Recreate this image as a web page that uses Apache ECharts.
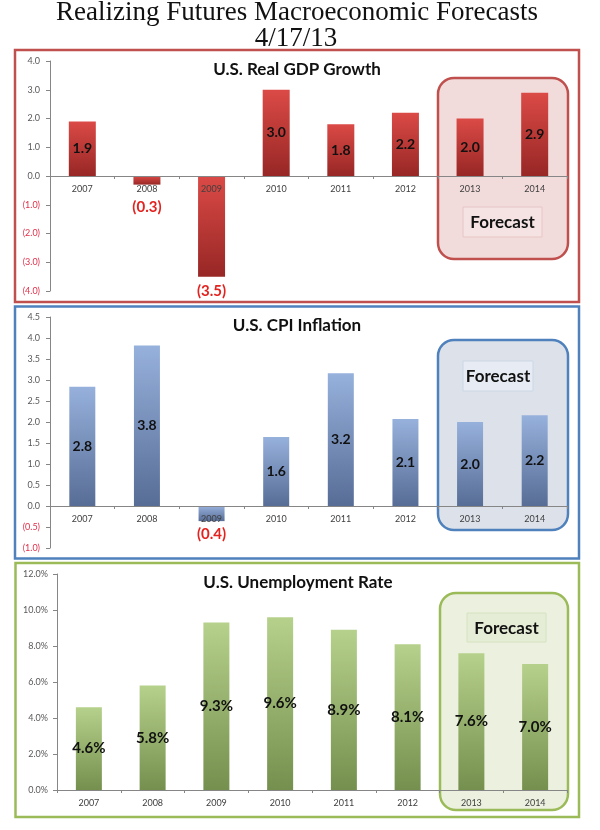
<!DOCTYPE html>
<html><head><meta charset="utf-8">
<script src="https://cdn.jsdelivr.net/npm/echarts@6/dist/echarts.min.js"></script>
<style>html,body{margin:0;padding:0;background:#fff}#c{width:600px;height:830px}</style>
</head><body><div id="c"></div>
<script>
// ---- data ----
const years = ['2007', '2008', '2009', '2010', '2011', '2012', '2013', '2014'];
const gdpValues = [1.9, -0.3, -3.5, 3.0, 1.8, 2.2, 2.0, 2.9];
const cpiValues = [2.84, 3.82, -0.36, 1.64, 3.16, 2.07, 2.0, 2.16];
const unempValues = [4.6, 5.8, 9.3, 9.6, 8.9, 8.1, 7.6, 7.0];
const chartTitles = ['U.S. Real GDP Growth', 'U.S. CPI Inflation', 'U.S. Unemployment Rate'];
const mainTitle = 'Realizing Futures Macroeconomic Forecasts';
const dateLine = '4/17/13';
const forecastText = 'Forecast';

// ---- styles ----
const FONT = 'Lato, "Open Sans", sans-serif';
const NEG_RED = '#e3231f';
const grad = (a, b) => new echarts.graphic.LinearGradient(0, 0, 0, 1, [{offset: 0, color: a}, {offset: 1, color: b}]);

function fmtNum(v) { return v < 0 ? '(' + Math.abs(v).toFixed(1) + ')' : v.toFixed(1); }

const grids = [
  {left: 50, top: 61, width: 517, height: 230, min: -4, max: 4, interval: 1, pct: false},
  {left: 50, top: 317, width: 517, height: 231, min: -1, max: 4.5, interval: 0.5, pct: false},
  {left: 57, top: 574, width: 510, height: 216, min: 0, max: 12, interval: 2, pct: true}
];

function yAxis(idx) {
  const g = grids[idx];
  return {
    type: 'value', gridIndex: idx, min: g.min, max: g.max, interval: g.interval,
    splitLine: {show: false},
    axisLine: {show: true, lineStyle: {color: '#868686', width: 1}},
    axisTick: {show: true, length: 4, lineStyle: {color: '#868686'}},
    axisLabel: {
      fontFamily: FONT, fontSize: 9, color: '#595959', margin: g.pct ? 9 : 10,
      formatter: v => g.pct ? v.toFixed(1) + '%' : (v < 0 ? '{n|' + fmtNum(v) + '}' : v.toFixed(1)),
      rich: {n: {color: '#e0304a', fontSize: 9, fontFamily: FONT}}
    }
  };
}
function xAxis(idx) {
  const g = grids[idx];
  // place the category axis on the zero line of the value axis
  const zeroOffset = -g.height * (0 - g.min) / (g.max - g.min);
  return {
    type: 'category', gridIndex: idx, data: years, position: 'bottom', offset: zeroOffset, z: 3,
    axisLine: {onZero: false, lineStyle: {color: '#868686', width: 1}},
    axisTick: {show: true, length: 3, lineStyle: {color: '#868686'}},
    axisLabel: {fontFamily: FONT, fontSize: 9, color: '#404040', margin: 9}
  };
}
function barSeries(idx, values, top, bottom, width, negDist) {
  const pct = grids[idx].pct;
  return {
    type: 'bar', xAxisIndex: idx, yAxisIndex: idx, barWidth: width,
    itemStyle: {color: grad(top, bottom)},
    label: {
      show: true, position: 'inside', fontFamily: FONT, fontWeight: 'bold',
      fontSize: pct ? 15 : 14, color: '#111',
      formatter: p => fmtNum(p.value) + (pct ? '%' : '')
    },
    data: values.map(v => v < 0 ? {
      value: v,
      label: {position: 'bottom', color: NEG_RED, fontSize: 15, distance: negDist(v)}
    } : v)
  };
}

const chart = echarts.init(document.getElementById('c'), null, {renderer: 'canvas'});

function panel(x1, y1, x2, y2, color) {
  return {type: 'rect', z: -2, shape: {x: x1, y: y1, width: x2 - x1, height: y2 - y1},
    style: {fill: '#fff', stroke: color, lineWidth: 2.5}};
}
function fbox(x1, y1, x2, y2, fill, stroke) {
  return {type: 'rect', z: -1, shape: {x: x1, y: y1, width: x2 - x1, height: y2 - y1, r: 16},
    style: {fill, stroke, lineWidth: 2.5}};
}
function flabel(x1, y1, x2, y2, fill, stroke) {
  return [
    {type: 'rect', z: -1, shape: {x: x1, y: y1, width: x2 - x1, height: y2 - y1},
      style: {fill, stroke, lineWidth: 1}},
    {type: 'text', z: 10, x: (x1 + x2) / 2, y: (y1 + y2) / 2 + 1,
      style: {text: forecastText, font: 'bold 17px ' + FONT, fill: '#111', align: 'center', verticalAlign: 'middle'}}
  ];
}
function ttext(txt, x, y, font, color) {
  return {type: 'text', z: 10, x, y, style: {text: txt, font, fill: color || '#111', align: 'center', verticalAlign: 'middle'}};
}

chart.setOption({
  animation: false,
  grid: grids.map(g => ({left: g.left, top: g.top, width: g.width, height: g.height})),
  xAxis: [xAxis(0), xAxis(1), xAxis(2)],
  yAxis: [yAxis(0), yAxis(1), yAxis(2)],
  series: [
    barSeries(0, gdpValues, '#db4a46', '#972725', 27, v => v > -1 ? 15 : 7),
    barSeries(1, cpiValues, '#96b1dc', '#576d96', 26, v => 6),
    barSeries(2, unempValues, '#b6d18b', '#758f4e', 26, v => 6)
  ],
  graphic: [
    panel(15, 50, 579, 302, '#c0504d'),
    panel(15, 306.5, 579, 558.5, '#4f81bd'),
    panel(15.5, 563, 579, 817, '#9bbb59'),
    fbox(438, 78, 568, 259, '#f2dcdb', '#c0504d'),
    fbox(438, 340, 568, 530, '#dde2ea', '#4f81bd'),
    fbox(440, 593, 568, 810, '#ebf1de', '#9bbb59'),
    ...flabel(463, 207, 542, 237, '#f5e3e3', '#e6c6c5'),
    ...flabel(463, 361, 533, 391, '#e7ecf4', '#cbd6e6'),
    ...flabel(467, 613, 546, 642, '#e5edd6', '#d6e2c0'),
    ttext(mainTitle, 297, 13, '27px "Liberation Serif", "DejaVu Serif", serif', '#111'),
    ttext(dateLine, 296, 39, '27px "Liberation Serif", "DejaVu Serif", serif', '#111'),
    ttext(chartTitles[0], 297, 70, 'bold 17px ' + FONT),
    ttext(chartTitles[1], 297, 326, 'bold 17px ' + FONT),
    ttext(chartTitles[2], 298, 583, 'bold 17px ' + FONT)
  ]
});
</script></body></html>
